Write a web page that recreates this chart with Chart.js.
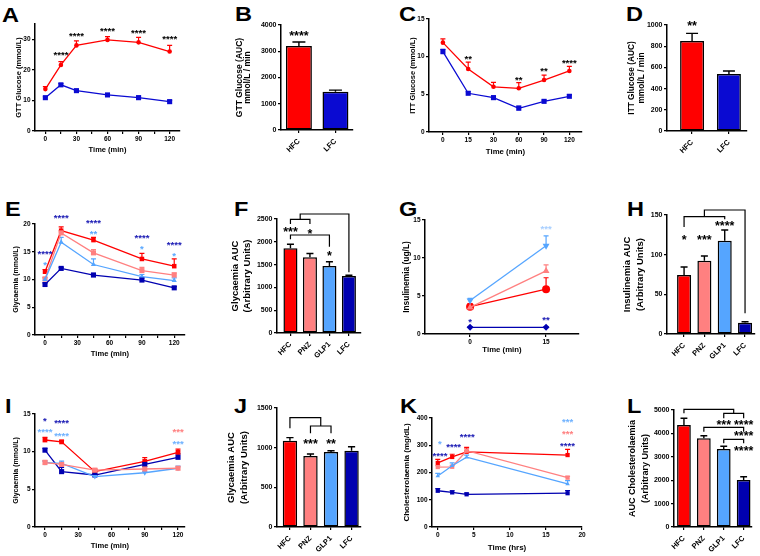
<!DOCTYPE html>
<html>
<head>
<meta charset="utf-8">
<script src="https://cdn.jsdelivr.net/npm/chart.js@4.4.1/dist/chart.umd.min.js"></script>
<style>
  body { margin: 0; background: #fff; width: 760px; height: 556px; position: relative; overflow: hidden; }
  canvas { position: absolute; }
  .lt { position: absolute; font: bold 21px "Liberation Sans", Arial, sans-serif; line-height: 21px; color: #000;
        transform: scaleX(1.12); transform-origin: left top; }
</style>
</head>
<body>
<div class="lt" style="left:2px;top:4px">A</div>
<div class="lt" style="left:235px;top:3px">B</div>
<div class="lt" style="left:399px;top:3px">C</div>
<div class="lt" style="left:626px;top:3px">D</div>
<div class="lt" style="left:5px;top:198px">E</div>
<div class="lt" style="left:234px;top:198px">F</div>
<div class="lt" style="left:399px;top:198px">G</div>
<div class="lt" style="left:627px;top:198px">H</div>
<div class="lt" style="left:5px;top:395px">I</div>
<div class="lt" style="left:234px;top:395px">J</div>
<div class="lt" style="left:400px;top:395px">K</div>
<div class="lt" style="left:627px;top:395px">L</div>
<script>
// ---- data ----
var diets = ['HFC', 'LFC'];
var groups = ['HFC', 'PNZ', 'GLP1', 'LFC'];

// A: GTT
var gttTime = [0, 15, 30, 60, 90, 120];
var gttHFC = [13.7, 21.6, 28.0, 29.8, 29.0, 26.0];
var gttHFCErr = [0.8, 1.1, 1.5, 1.1, 1.6, 2.0];
var gttLFC = [10.9, 15.1, 13.2, 11.8, 10.9, 9.6];
var gttLFCErr = [0.3, 0.4, 0.3, 0.3, 0.5, 0.4];
var gttStars = [[15, 25.5, '****'], [30, 31.8, '****'], [60, 33.4, '****'], [90, 32.8, '****'], [120, 30.9, '****']];

// B: GTT AUC
var gttAuc = [3200, 1459];
var gttAucErr = [150, 60];
var gttAucStars = [[0, 3683, '****']];

// C: ITT
var ittTime = ['0', '15', '30', '60', '90', '120'];
var ittHFC = [11.86, 8.37, 6.0, 5.8, 6.9, 8.1];
var ittHFCErr = [0.5, 0.9, 0.6, 0.75, 0.65, 0.6];
var ittLFC = [10.66, 5.14, 4.56, 3.15, 4.07, 4.74];
var ittLFCErr = [0.3, 0.2, 0.2, 0.3, 0.15, 0.2];
var ittStars = [[1, 10.0, '**'], [3, 7.2, '**'], [4, 8.45, '**'], [5, 9.43, '****']];

// D: ITT AUC
var ittAuc = [849, 538];
var ittAucErr = [72, 28];
var ittAucStars = [[0, 1022, '**']];

// E: glycaemia
var glyTime = [0, 15, 45, 90, 120];
var glyHFC = [11.4, 18.8, 17.1, 13.7, 12.4];
var glyHFCErr = [0.4, 0.7, 0.5, 1.0, 1.3];
var glyPNZ = [10.1, 18.4, 14.8, 11.6, 10.8];
var glyPNZErr = [0.3, 0.4, 0.6, 0.6, 0.4];
var glyGLP1 = [10.0, 16.7, 12.7, 10.5, 9.8];
var glyGLP1Err = [0.3, 0.9, 1.0, 0.4, 0.5];
var glyLFC = [9.1, 12.0, 10.8, 9.9, 8.5];
var glyLFCErr = [0.3, 0.2, 0.3, 0.4, 0.2];
var glyStarsNavy = [[0, 15.1, '****'], [15, 21.6, '****'], [45, 20.6, '****'], [90, 18.0, '****'], [120, 16.6, '****']];
var glyStarsSky = [[0, 13.0, '*'], [45, 18.6, '**'], [90, 15.9, '*'], [120, 14.6, '*']];

// F: glycaemia AUC
var glyAuc = [1857, 1660, 1469, 1250];
var glyAucErr = [90, 85, 95, 15];
var glyAucBrackets = [
  [[0.5, 2493], [0.5, 2610], [3, 2610], [3, 1330]],
  [[0, 2390], [0, 2493], [1, 2493], [1, 2390]],
  [[0, 2054], [0, 2149], [2, 2149], [2, 1893]]
];
var glyAucStars = [[0, 2273, '***'], [1, 2243, '*'], [2, 1761, '*']];

// G: insulinemia
var insTime = [0, 15];
var insHFC = [3.6, 5.9];
var insHFCErr = [0.4, 1.5];
var insPNZ = [3.5, 8.3];
var insPNZErr = [0.3, 0.8];
var insGLP1 = [4.4, 11.6];
var insGLP1Err = [0.3, 1.3];
var insLFC = [0.88, 0.88];
var insLFCErr = [0.05, 0.05];
var insStarsSky = [[15, 14.2, '***']];
var insStarsNavy = [[0, 1.84, '*'], [15, 2.1, '**']];

// H: insulinemia AUC
var insAuc = [74.4, 92.4, 117.6, 14.3];
var insAucErr = [10, 6, 13.4, 1.2];
var insAucBrackets = [
  [[1, 147.9], [1, 156.3], [3, 156.3], [3, 26]],
  [[0, 135], [0, 147.9], [2, 147.9], [2, 144.6]]
];
var insAucStars = [[0, 122.7, '*'], [1, 122.7, '***'], [2, 139.5, '****']];

// I: glycaemia (second test)
var gly2Time = [0, 15, 45, 90, 120];
var gly2HFC = [11.55, 11.3, 7.35, 8.7, 9.9];
var gly2HFCErr = [0.35, 0.2, 0.3, 0.5, 0.45];
var gly2PNZ = [8.55, 8.3, 7.55, 7.7, 7.8];
var gly2PNZErr = [0.3, 0.2, 0.2, 0.3, 0.2];
var gly2GLP1 = [8.55, 8.45, 6.7, 7.2, 7.8];
var gly2GLP1Err = [0.2, 0.3, 0.1, 0.15, 0.3];
var gly2LFC = [10.2, 7.35, 6.9, 8.3, 9.25];
var gly2LFCErr = [0.25, 0.55, 0.15, 0.3, 0.45];
var gly2StarsNavy = [[0, 14.4, '*'], [15, 14.1, '****']];
var gly2StarsSky = [[0, 12.9, '****'], [15, 12.4, '****'], [120, 11.3, '***']];
var gly2StarsPink = [[120, 12.9, '***']];

// J: glycaemia AUC (second test)
var gly2Auc = [1088, 895, 945, 962];
var gly2AucErr = [38, 25, 17, 50];
var gly2AucBrackets = [
  [[0, 1244], [0, 1378], [1.5, 1378], [1.5, 1273]],
  [[1, 1181], [1, 1273], [2, 1273], [2, 1181]]
];
var gly2AucStars = [[1, 1088, '***'], [2, 1088, '**']];

// K: cholesterolaemia
var cholTime = [0, 2, 4, 18];
var cholHFC = [235, 257, 276, 264];
var cholHFCErr = [13, 10, 16, 21];
var cholPNZ = [220, 221, 280, 181];
var cholPNZErr = [5, 5, 8, 5];
var cholGLP1 = [187, 225, 256, 158];
var cholGLP1Err = [10, 10, 8, 12];
var cholLFC = [133, 127, 120, 124];
var cholLFCErr = [8, 6, 4, 10];
var cholStarsNavy = [[0.3, 270, '****'], [2.2, 301, '****'], [4.1, 338, '****'], [18, 307, '****']];
var cholStarsSky = [[0.3, 313, '*'], [18, 393, '***']];
var cholStarsPink = [[18, 350, '***']];

// L: cholesterolaemia AUC
var cholAuc = [4359, 3790, 3333, 2009];
var cholAucErr = [290, 110, 115, 140];
var cholAucBrackets = [
  [[0, 4858], [0, 5030], [2.5, 5030], [2.5, 4858]],
  [[2, 4645], [2, 4858], [3, 4858], [3, 4645]],
  [[1, 4074], [1, 4260], [3, 4260], [3, 4074]],
  [[2, 3575], [2, 3746], [3, 3746], [3, 3575]]
];
var cholAucStars = [[2, 4502, '***'], [3, 4502, '****'], [3, 4003, '****'], [3, 3390, '****']];

// ---- styling ----
var RED = '#ff0000', PINK = '#ff8080', SKY = '#55a5ff', NAVY = '#0000b0', BLUE = '#0a0ad2';
var FONT = '"Liberation Sans", Arial, sans-serif';
Chart.defaults.font.family = FONT;
Chart.defaults.font.weight = 'bold';
Chart.defaults.color = '#000';

function pts(xs, ys) {
  return ys.map(function (y, i) { return { x: xs[i], y: y }; });
}
function idx(n) {
  var a = [];
  for (var i = 0; i < n; i++) a.push(i);
  return a;
}
function setTicks(list) {
  return function (s) { s.ticks = list.map(function (v) { return { value: v }; }); };
}
function line(xs, ys, errs, color, style, r, rot) {
  return {
    data: pts(xs, ys), errs: errs, borderColor: color, backgroundColor: color,
    borderWidth: 1.3, pointStyle: style, pointRadius: r, pointBorderWidth: 0,
    pointRotation: rot || 0, tension: 0
  };
}
function bars(ys, errs, colors, pct) {
  return {
    data: pts(idx(ys.length), ys), errs: errs, errColor: '#000', errWidth: 1.4,
    backgroundColor: colors, borderColor: '#000', borderWidth: 1.5, borderSkipped: false,
    barPercentage: pct, categoryPercentage: 1
  };
}

// error bars, significance brackets and stars
var notes = {
  id: 'notes',
  beforeDatasetsDraw: function (chart) {
    var ctx = chart.ctx, ys = chart.scales.y;
    ctx.save();
    chart.data.datasets.forEach(function (ds, di) {
      if (!ds.errs) return;
      var meta = chart.getDatasetMeta(di);
      ctx.strokeStyle = ds.errColor || ds.borderColor;
      ctx.lineWidth = ds.errWidth || 1.2;
      meta.data.forEach(function (el, i) {
        var top = ys.getPixelForValue(ds.data[i].y + ds.errs[i]);
        var half = el.width ? el.width / 4 : 2.5;
        ctx.beginPath();
        ctx.moveTo(el.x, el.y); ctx.lineTo(el.x, top);
        ctx.moveTo(el.x - half, top); ctx.lineTo(el.x + half, top);
        ctx.stroke();
      });
    });
    ctx.restore();
  },
  afterDraw: function (chart) {
    var n = chart.canvas.notes;
    if (!n) return;
    var ctx = chart.ctx, xs = chart.scales.x, ys = chart.scales.y;
    ctx.save();
    ctx.strokeStyle = '#000';
    ctx.lineWidth = 1.2;
    (n.brackets || []).forEach(function (b) {
      ctx.beginPath();
      b.forEach(function (p, i) {
        var px = xs.getPixelForValue(p[0]), py = ys.getPixelForValue(p[1]);
        if (i) ctx.lineTo(px, py); else ctx.moveTo(px, py);
      });
      ctx.stroke();
    });
    ctx.font = 'bold ' + n.size + 'px ' + FONT;
    ctx.textAlign = 'center';
    ctx.textBaseline = 'alphabetic';
    (n.stars || []).forEach(function (g) {
      ctx.fillStyle = g[0];
      g[1].forEach(function (s) {
        ctx.fillText(s[2], xs.getPixelForValue(s[0]), ys.getPixelForValue(s[1]) + 0.565 * n.size);
      });
    });
    ctx.restore();
  }
};

function panel(p) {
  var c = document.createElement('canvas');
  c.width = p.box[2]; c.height = p.box[3];
  c.style.left = p.box[0] + 'px'; c.style.top = p.box[1] + 'px';
  document.body.appendChild(c);
  var isBar = p.type === 'bar';
  c.notes = { stars: p.stars, brackets: p.brackets, size: isBar ? 12.5 : 9.6 };
  var yw = p.yW, xh = p.xH;
  var tickFont = { size: isBar ? 7 : 6.5, weight: 'bold' };
  return new Chart(c, {
    type: p.type,
    data: { datasets: p.datasets },
    plugins: [notes],
    options: {
      responsive: false, animation: false, events: [],
      layout: { padding: {
        left: p.plot[0] - yw - p.box[0], top: p.plot[1] - p.box[1],
        right: p.box[0] + p.box[2] - p.plot[2], bottom: p.box[1] + p.box[3] - p.plot[3] - xh
      } },
      plugins: { legend: { display: false }, tooltip: { enabled: false } },
      scales: {
        x: {
          type: 'linear', offset: false, min: p.xr[0], max: p.xr[1],
          afterBuildTicks: setTicks(p.xt),
          afterFit: function (s) { s.height = xh; },
          border: { color: '#000', width: 1.5 },
          grid: { offset: false, drawOnChartArea: false, tickLength: 3, color: '#000', lineWidth: 1.2 },
          ticks: {
            autoSkip: false, font: isBar ? { size: 7.5, weight: 'bold' } : tickFont,
            padding: isBar ? 4 : 1.5, minRotation: isBar ? 45 : 0, maxRotation: isBar ? 45 : 0,
            callback: p.xl
          },
          title: p.xTitle ? { display: true, text: p.xTitle, font: { size: p.xTitleSize || 7.5, weight: 'bold' }, padding: 0 } : { display: false }
        },
        y: {
          type: 'linear', min: 0, max: p.yr,
          afterBuildTicks: setTicks(p.yt),
          afterFit: function (s) { s.width = yw; },
          border: { color: '#000', width: 1.5 },
          grid: { drawOnChartArea: false, tickLength: 3, color: '#000', lineWidth: 1.2 },
          ticks: { font: tickFont, padding: 1.5, callback: function (v) { return String(v); } },
          title: { display: true, text: p.yTitle, font: { size: p.yTitleSize, weight: 'bold', lineHeight: p.yLH || 1.2 }, padding: 0 }
        }
      }
    }
  });
}

function every30(v) { return v % 30 === 0 ? String(v) : ''; }
function plain(v) { return String(v); }
function names(list) { return function (v) { return list[v] !== undefined ? list[v] : ''; }; }

// A
panel({
  type: 'line', box: [0, 0, 190, 170], plot: [35, 24, 180, 131], yW: 21, xH: 23.5,
  xr: [-10, 130], xt: [0, 15, 30, 45, 60, 75, 90, 105, 120], xl: every30, xTitle: 'Time (min)',
  yr: 35, yt: [0, 10, 20, 30], yTitle: 'GTT Glucose (mmol/L)', yTitleSize: 7.5,
  datasets: [
    line(gttTime, gttHFC, gttHFCErr, RED, 'circle', 2.3),
    line(gttTime, gttLFC, gttLFCErr, BLUE, 'rect', 3.6)
  ],
  stars: [['#000', gttStars]]
});
// B
panel({
  type: 'bar', box: [190, 0, 190, 170], plot: [281, 25, 353, 130], yW: 46, xH: 40,
  xr: [-0.49, 1.48], xt: [0, 1], xl: names(diets),
  yr: 4000, yt: [0, 1000, 2000, 3000, 4000], yTitle: ['GTT Glucose (AUC)', 'mmol/L / min'], yTitleSize: 8.5, yLH: 1.0,
  datasets: [bars(gttAuc, gttAucErr, [RED, BLUE], 0.71)],
  stars: [['#000', gttAucStars]]
});
// C
panel({
  type: 'line', box: [380, 0, 206, 170], plot: [429, 19, 584, 132], yW: 20.5, xH: 24.5,
  xr: [-0.55, 5.5], xt: [0, 1, 2, 3, 4, 5], xl: names(ittTime), xTitle: 'Time (min)', xTitleSize: 7.8,
  yr: 15, yt: [0, 5, 10, 15], yTitle: 'ITT Glucose (mmol/L)', yTitleSize: 7.5,
  datasets: [
    line(idx(6), ittHFC, ittHFCErr, RED, 'circle', 2.3),
    line(idx(6), ittLFC, ittLFCErr, BLUE, 'rect', 3.6)
  ],
  stars: [['#000', ittStars]]
});
// D
panel({
  type: 'bar', box: [586, 0, 174, 170], plot: [667, 25, 747, 131], yW: 40.3, xH: 39,
  xr: [-0.68, 1.49], xt: [0, 1], xl: names(diets),
  yr: 1000, yt: [0, 200, 400, 600, 800, 1000], yTitle: ['ITT Glucose (AUC)', 'mmol/L / min'], yTitleSize: 8.3, yLH: 1.2,
  datasets: [bars(ittAuc, ittAucErr, [RED, BLUE], 0.65)],
  stars: [['#000', ittAucStars]]
});
// E
panel({
  type: 'line', box: [0, 180, 190, 190], plot: [35, 224, 185, 335], yW: 23.5, xH: 23.5,
  xr: [-9.3, 130], xt: [0, 15, 30, 45, 60, 75, 90, 105, 120], xl: every30, xTitle: 'Time (min)', xTitleSize: 7.6,
  yr: 20, yt: [0, 5, 10, 15, 20], yTitle: 'Glycaemia (mmol/L)', yTitleSize: 7,
  datasets: [
    line(glyTime, glyLFC, glyLFCErr, NAVY, 'rect', 3.6),
    line(glyTime, glyGLP1, glyGLP1Err, SKY, 'triangle', 3),
    line(glyTime, glyPNZ, glyPNZErr, PINK, 'rect', 3.6),
    line(glyTime, glyHFC, glyHFCErr, RED, 'rect', 3.2)
  ],
  stars: [['#1a1ab4', glyStarsNavy], ['#5aa8ff', glyStarsSky]]
});
// F
panel({
  type: 'bar', box: [190, 180, 190, 190], plot: [277, 219, 361, 333], yW: 47.9, xH: 37,
  xr: [-0.69, 3.62], xt: [0, 1, 2, 3], xl: names(groups),
  yr: 2500, yt: [0, 500, 1000, 1500, 2000, 2500], yTitle: ['Glycaemia AUC', '(Arbitrary Units)'], yTitleSize: 9.5, yLH: 1.3,
  datasets: [bars(glyAuc, glyAucErr, [RED, PINK, SKY, NAVY], 0.72)],
  brackets: glyAucBrackets,
  stars: [['#000', glyAucStars]]
});
// G
panel({
  type: 'line', box: [380, 180, 206, 190], plot: [425, 220, 579, 334], yW: 23.5, xH: 20.5,
  xr: [-8.9, 21.5], xt: [0, 15], xl: plain, xTitle: 'Time (min)', xTitleSize: 7.8,
  yr: 15, yt: [0, 5, 10, 15], yTitle: 'Insulinemia (ug/L)', yTitleSize: 8.4,
  datasets: [
    line(insTime, insLFC, insLFCErr, NAVY, 'rectRot', 3.5),
    line(insTime, insPNZ, insPNZErr, PINK, 'triangle', 4),
    line(insTime, insGLP1, insGLP1Err, SKY, 'triangle', 4, 180),
    line(insTime, insHFC, insHFCErr, RED, 'circle', 4)
  ],
  stars: [['#a8cfff', insStarsSky], ['#1a1ab4', insStarsNavy]]
});
// H
panel({
  type: 'bar', box: [586, 180, 174, 190], plot: [667, 215, 755, 334], yW: 45.5, xH: 36,
  xr: [-0.84, 3.49], xt: [0, 1, 2, 3], xl: names(groups),
  yr: 150, yt: [0, 50, 100, 150], yTitle: ['Insulinemia AUC', '(Arbitrary Units)'], yTitleSize: 9.5, yLH: 1.3,
  datasets: [bars(insAuc, insAucErr, [RED, PINK, SKY, NAVY], 0.69)],
  brackets: insAucBrackets,
  stars: [['#000', insAucStars]]
});
// I
panel({
  type: 'line', box: [0, 370, 190, 186], plot: [35, 414, 185, 527], yW: 23.5, xH: 23.5,
  xr: [-9, 126.3], xt: [0, 15, 30, 45, 60, 75, 90, 105, 120], xl: every30, xTitle: 'Time (min)', xTitleSize: 7.6,
  yr: 15, yt: [0, 5, 10, 15], yTitle: 'Glycaemia (mmol/L)', yTitleSize: 7,
  datasets: [
    line(gly2Time, gly2PNZ, gly2PNZErr, PINK, 'rect', 3.6),
    line(gly2Time, gly2GLP1, gly2GLP1Err, SKY, 'triangle', 3, 180),
    line(gly2Time, gly2LFC, gly2LFCErr, NAVY, 'rect', 3.6),
    line(gly2Time, gly2HFC, gly2HFCErr, RED, 'rect', 3.4)
  ],
  stars: [['#1a1ab4', gly2StarsNavy], ['#6fb2ff', gly2StarsSky], ['#ff8080', gly2StarsPink]]
});
// J
panel({
  type: 'bar', box: [190, 370, 190, 186], plot: [277, 408, 361, 527], yW: 51.7, xH: 29,
  xr: [-0.63, 3.46], xt: [0, 1, 2, 3], xl: names(groups),
  yr: 1500, yt: [0, 500, 1000, 1500], yTitle: ['Glycaemia AUC', '(Arbitrary Units)'], yTitleSize: 9.5, yLH: 1.35,
  datasets: [bars(gly2Auc, gly2AucErr, [RED, PINK, SKY, NAVY], 0.7)],
  brackets: gly2AucBrackets,
  stars: [['#000', gly2AucStars]]
});
// K
panel({
  type: 'line', box: [380, 370, 210, 186], plot: [432, 418, 582, 527], yW: 30.5, xH: 25.5,
  xr: [-0.8, 20], xt: [0, 5, 10, 15, 20], xl: plain, xTitle: 'Time (hrs)', xTitleSize: 8,
  yr: 400, yt: [0, 100, 200, 300, 400], yTitle: 'Cholesterolaemia (mg/dL)', yTitleSize: 8,
  datasets: [
    line(cholTime, cholLFC, cholLFCErr, NAVY, 'rect', 3),
    line(cholTime, cholGLP1, cholGLP1Err, SKY, 'triangle', 2.6),
    line(cholTime, cholPNZ, cholPNZErr, PINK, 'rect', 3),
    line(cholTime, cholHFC, cholHFCErr, RED, 'rect', 3)
  ],
  stars: [['#1a1ab4', cholStarsNavy], ['#6fb2ff', cholStarsSky], ['#ff8080', cholStarsPink]]
});
// L
panel({
  type: 'bar', box: [590, 370, 170, 186], plot: [674, 410, 752, 527], yW: 47.3, xH: 29,
  xr: [-0.5, 3.42], xt: [0, 1, 2, 3], xl: names(groups),
  yr: 5000, yt: [0, 1000, 2000, 3000, 4000, 5000], yTitle: ['AUC Cholesterolaemia', '(Arbitrary Units)'], yTitleSize: 9, yLH: 1.4,
  datasets: [bars(cholAuc, cholAucErr, [RED, PINK, SKY, NAVY], 0.69)],
  brackets: cholAucBrackets,
  stars: [['#000', cholAucStars]]
});
</script>
</body>
</html>
